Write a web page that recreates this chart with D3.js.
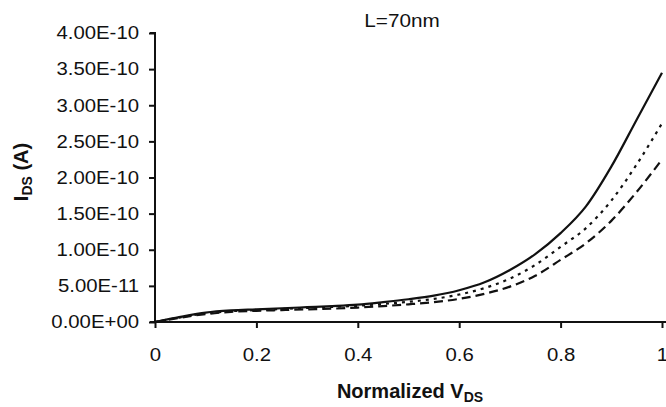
<!DOCTYPE html>
<html>
<head>
<meta charset="utf-8">
<script src="https://cdn.jsdelivr.net/npm/d3@7"></script>
<style>
  body { margin: 0; background: #fff; }
  text { font-family: "Liberation Sans", Arial, sans-serif; fill: #111; }
</style>
</head>
<body>
<div id="chart"></div>
<script>
// values (current in units of 1e-11 A)
const vds = [0, 0.05, 0.1, 0.15, 0.2, 0.25, 0.3, 0.35, 0.4, 0.45, 0.5,
             0.55, 0.6, 0.65, 0.7, 0.75, 0.8, 0.85, 0.9, 0.95, 1.0];
const solidVals  = [0, 0.7, 1.3, 1.6, 1.75, 1.9, 2.05, 2.2, 2.4, 2.75, 3.15,
                    3.65, 4.4, 5.5, 7.2, 9.4, 12.3, 16.0, 21.5, 28.0, 34.5];
const dottedVals = [0, 0.65, 1.2, 1.5, 1.65, 1.8, 1.95, 2.1, 2.25, 2.5, 2.8,
                    3.2, 3.8, 4.7, 6.0, 7.9, 10.4, 13.0, 16.8, 21.8, 27.5];
const dashedVals = [0, 0.6, 1.1, 1.4, 1.55, 1.65, 1.75, 1.85, 2.0, 2.2, 2.45,
                    2.75, 3.2, 3.9, 4.9, 6.4, 8.6, 10.9, 14.0, 18.0, 22.5];
const xTicks = [0, 0.2, 0.4, 0.6, 0.8, 1];
const yTicks = [0, 5e-11, 1e-10, 1.5e-10, 2e-10, 2.5e-10, 3e-10, 3.5e-10, 4e-10];
const yTickLabels = ["0.00E+00", "5.00E-11", "1.00E-10", "1.50E-10", "2.00E-10",
                     "2.50E-10", "3.00E-10", "3.50E-10", "4.00E-10"];

const width = 666, height = 407;
const svg = d3.select("#chart").append("svg")
  .attr("width", width).attr("height", height);

const x = d3.scaleLinear().domain([0, 1]).range([155, 662]);
const y = d3.scaleLinear().domain([0, 4e-10]).range([322, 33]);

// the scanned text is a little wider than the font
function stretch(sel, k) {
  sel.each(function () {
    const w = this.getComputedTextLength();
    d3.select(this).attr("textLength", w * k).attr("lengthAdjust", "spacingAndGlyphs");
  });
}

// y axis
const yAxis = svg.append("g")
  .attr("transform", "translate(155,0)")
  .call(d3.axisLeft(y).tickValues(yTicks).tickSize(6).tickPadding(10)
    .tickFormat((d, i) => yTickLabels[i]));
yAxis.select(".domain").attr("stroke", "#111").attr("stroke-width", 2)
  .attr("d", "M-5,33H0V322");
yAxis.selectAll(".tick line").attr("stroke", "#111").attr("stroke-width", 2);
yAxis.selectAll(".tick text").attr("font-size", 18).attr("fill", "#111")
  .style("font-family", "'Liberation Sans', Arial, sans-serif")
  .call(stretch, 1.13);

// x axis
const xAxis = svg.append("g")
  .attr("transform", "translate(0,322)")
  .call(d3.axisBottom(x).tickValues(xTicks).tickSize(6).tickPadding(20)
    .tickFormat(d3.format("")));
xAxis.select(".domain").attr("stroke", "#111").attr("stroke-width", 2)
  .attr("d", "M150,0H666");
xAxis.selectAll(".tick line").attr("stroke", "#111").attr("stroke-width", 2);
xAxis.selectAll(".tick text").attr("font-size", 18).attr("fill", "#111")
  .style("font-family", "'Liberation Sans', Arial, sans-serif")
  .call(stretch, 1.13);

// curves
const series = [
  { vals: solidVals, dash: null },
  { vals: dottedVals, dash: "3,5" },
  { vals: dashedVals, dash: "9,5" }
];
const line = d3.line()
  .x((d, i) => x(vds[i]))
  .y(d => y(d * 1e-11))
  .curve(d3.curveMonotoneX);

svg.append("g").selectAll("path")
  .data(series)
  .join("path")
  .attr("d", d => line(d.vals))
  .attr("fill", "none")
  .attr("stroke", "#111")
  .attr("stroke-width", 2.2)
  .attr("stroke-dasharray", d => d.dash);

// title
svg.append("text")
  .attr("x", 402).attr("y", 27)
  .attr("text-anchor", "middle")
  .attr("font-size", 18)
  .text("L=70nm")
  .call(stretch, 1.15);

// x axis label
const xl = svg.append("text")
  .attr("x", 410).attr("y", 398)
  .attr("text-anchor", "middle")
  .attr("font-size", 20)
  .attr("font-weight", "bold");
xl.append("tspan").text("Normalized V");
xl.append("tspan").attr("font-size", 14).attr("dy", 4).text("DS");

// y axis label
const yl = svg.append("text")
  .attr("transform", "translate(28,172) rotate(-90)")
  .attr("text-anchor", "middle")
  .attr("font-size", 20)
  .attr("font-weight", "bold");
yl.append("tspan").text("I");
yl.append("tspan").attr("font-size", 14).attr("dy", 4).text("DS");
yl.append("tspan").attr("dy", -4).text(" (A)");
</script>
</body>
</html>
